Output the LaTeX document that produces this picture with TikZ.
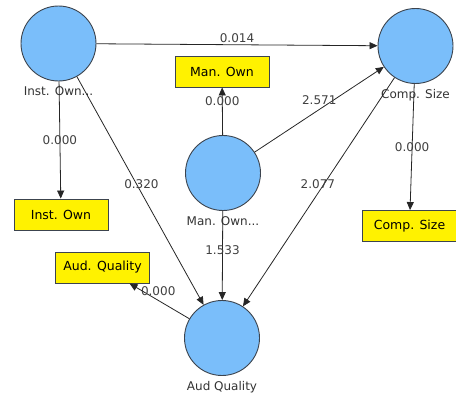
\documentclass[tikz,border=0pt]{standalone}
\usepackage{fontspec}
\setmainfont{DejaVu Sans}
\usetikzlibrary{shapes,arrows.meta,positioning}
\definecolor{latent}{RGB}{122,190,250}
\definecolor{rim}{RGB}{60,68,78}

\begin{document}
\begin{tikzpicture}[x=1pt,y=-1pt,
	lv/.style={circle,draw=rim,fill=latent,line width=0.9pt,minimum size=75pt,inner sep=0pt},
	ind/.style={rectangle,draw=rim,fill=yellow,line width=0.9pt,minimum width=94pt,minimum height=31pt,font=\fontsize{12.5}{14}\selectfont},
	nm/.style={font=\fontsize{12}{14}\selectfont,text=black!80,inner sep=1pt},
	est/.style={font=\fontsize{12}{14}\selectfont,text=black!75,inner sep=1pt},
	pth/.style={draw=black!85,line width=0.8pt,-{Triangle[length=8pt,width=7pt]}}]
\useasboundingbox (0,0) rectangle (456,396);
\node [lv] (inst) at (58.5,43.5) {};
\node [lv] (comp) at (415.5,46) {};
\node [lv] (man) at (223,173) {};
\node [lv] (aud) at (222,338) {};
\node [nm,below=4pt of inst] (instl) {Inst. Own...};
\node [nm,below=4pt of comp] (compl) {Comp. Size};
\node [nm,below=4pt of man] (manl) {Man. Own...};
\node [nm,below=4pt of aud] (audl) {Aud Quality};
\node [ind] (instbox) at (61,214.5) {Inst. Own};
\node [ind] (manbox) at (222,71.5) {Man. Own};
\node [ind] (compbox) at (409.5,226) {Comp. Size};
\node [ind] (audbox) at (102.5,267.5) {Aud. Quality};
\draw [pth] (inst) -- node[est,above=1pt] (e1) {0.014} (comp);
\draw [pth] (inst) -- node[est,pos=0.5] (e2) {0.000} (instbox);
\draw [pth] (inst) -- node[est,pos=0.47,xshift=5pt] (e3) {0.320} (aud);
\draw [pth] (man) -- node[est,pos=0.71] (e4) {0.000} (manbox);
\draw [pth] (man) -- node[est,pos=0.5,yshift=9pt] (e5) {2.571} (comp);
\draw [pth] (man) -- node[est,pos=0.44] (e6) {1.533} (aud);
\draw [pth] (comp) -- node[est,pos=0.5] (e7) {0.000} (compbox);
\draw [pth] (comp) -- node[est,pos=0.466,xshift=-6pt] (e8) {2.077} (aud);
\draw [pth] (aud) -- node[est,pos=0.52,yshift=9pt] (e9) {0.000} (audbox);
\end{tikzpicture}
\end{document}
